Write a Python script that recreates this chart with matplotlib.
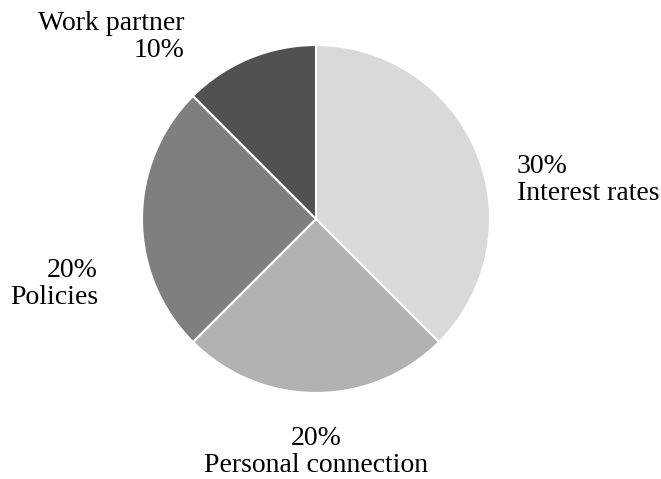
import matplotlib.pyplot as plt

# 資料
categories = ["Interest rates", "Personal connection", "Policies", "Work partner"]
values = [30, 20, 20, 10]
percent_labels = ["30%", "20%", "20%", "10%"]
colors = ["#D9D9D9", "#B2B2B2", "#7F7F7F", "#515151"]

plt.rcParams['font.family'] = ['Liberation Serif', 'DejaVu Serif']

fig = plt.figure(figsize=(6.61, 4.79), dpi=100)
W, H = 661, 479
cx, cy, r = 316, 219, 174
ax = fig.add_axes([(cx - r) / W, (H - cy - r) / H, 2 * r / W, 2 * r / H])

ax.pie(values, colors=colors, startangle=90, counterclock=False,
       wedgeprops=dict(edgecolor="white", linewidth=1.5))
ax.set_xlim(-1, 1)
ax.set_ylim(-1, 1)

# 標籤 (位置、對齊方式)
label_specs = [
    ("{p}\n{c}", (1.155, 0.224), "left", "left"),
    ("{p}\n{c}", (0.0, -1.34), "center", "center"),
    ("{p}\n{c}", (-1.253, -0.374), "right", "right"),
    ("{c}\n{p}", (-0.753, 1.046), "right", "right"),
]
for (fmt, pos, ha, ma), cat, pct in zip(label_specs, categories, percent_labels):
    ax.text(pos[0], pos[1], fmt.format(p=pct, c=cat), ha=ha, va="center",
            multialignment=ma, fontsize=20, linespacing=1.1, clip_on=False)

fig.savefig("out.png", dpi=100)
